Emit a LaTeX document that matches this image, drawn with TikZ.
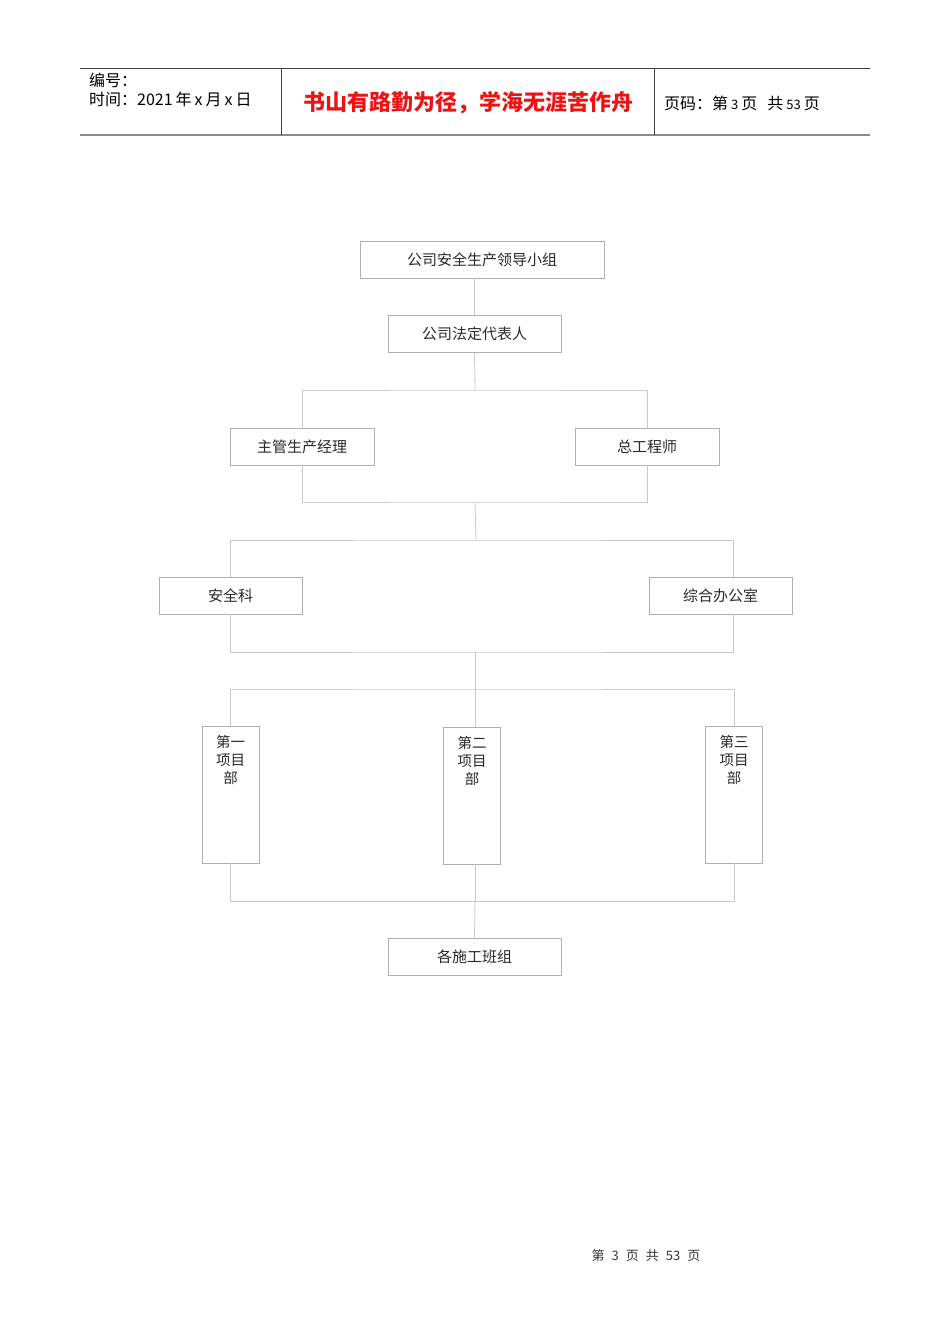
\documentclass[tikz,border=0pt]{standalone}
\usepackage{fontspec}
\setmainfont{Noto Sans CJK SC}
\definecolor{boxgray}{RGB}{175,175,175}
\definecolor{linegray}{RGB}{200,200,200}
\definecolor{txt}{RGB}{40,40,40}
\definecolor{titlered}{RGB}{235,20,20}
\begin{document}
\begin{tikzpicture}[x=1pt,y=-1pt,
  box/.style={draw=boxgray,line width=0.8pt,inner sep=0pt,text=txt,
    font=\fontsize{15}{18}\selectfont,minimum height=37pt},
  tallbox/.style={draw=boxgray,line width=0.8pt,inner sep=0pt,
    minimum width=57pt,minimum height=137pt},
  tlabel/.style={anchor=north,yshift=-6pt,align=center,text=txt,
    font=\fontsize{14.5}{18}\selectfont},
  conn/.style={draw=linegray,line width=0.8pt},
  hdr/.style={anchor=west,inner sep=0pt,text=black,font=\fontsize{16}{18}\selectfont}]
\useasboundingbox (0,0) rectangle (950,1344);
% header
\draw[line width=0.8pt,draw=black!75] (80,68) -- (870,68);
\draw[line width=1.6pt,draw=black!45] (80,135) -- (870,135);
\draw[line width=0.8pt,draw=black!75] (281,68) -- (281,135);
\draw[line width=0.8pt,draw=black!75] (654,68) -- (654,135);
\node[hdr] (h1) at (89,80) {编号：};
\node[hdr] (h2) at (89,99) {时间：2021\hspace{3pt}年\hspace{3pt}x\hspace{3pt}月\hspace{3pt}x\hspace{3pt}日};
\node[anchor=center,inner sep=0pt,text=titlered,font=\fontsize{22}{24}\selectfont\bfseries] (title) at (468,103) {书山有路勤为径，学海无涯苦作舟};
\node[hdr] (h3) at (664,103) {页码：第\hspace{3pt}{\fontsize{13}{14}\selectfont 3}\hspace{3pt}页\hspace{10pt}共\hspace{3pt}{\fontsize{13}{14}\selectfont 53}\hspace{3pt}页};
% boxes
\node[box,minimum width=244pt] (top) at (482,259.5) {公司安全生产领导小组};
\node[box,minimum width=173pt] (legal) at (474.5,334) {公司法定代表人};
\node[box,minimum width=144pt] (mgr) at (302,446.5) {主管生产经理};
\node[box,minimum width=144pt] (eng) at (647,446.5) {总工程师};
\node[box,minimum width=143pt] (safe) at (230.5,595.5) {安全科};
\node[box,minimum width=143pt] (office) at (720.5,595.5) {综合办公室};
\node[tallbox,label={[tlabel]north:第一\\项目\\部}] (p1) at (230.5,794.5) {};
\node[tallbox,label={[tlabel]north:第二\\项目\\部}] (p2) at (472,795.5) {};
\node[tallbox,label={[tlabel]north:第三\\项目\\部}] (p3) at (734,794.5) {};
\node[box,minimum width=173pt] (team) at (474.5,956.5) {各施工班组};
% junction coordinates
\coordinate (b1) at (475,390);
\coordinate (b2) at (475,502);
\coordinate (b3) at (476,540);
\coordinate (b4) at (475,652);
\coordinate (b5) at (475,689);
\coordinate (b6) at (475,901);
\coordinate (oN) at (733,577);
\coordinate (oS) at (733,614);
% connectors
\draw[conn] (top.south -| legal.north) -- (legal.north);
\draw[conn] (legal.south) -- (b1);
\draw[conn] (mgr.north) |- (b1) -| (eng.north);
\draw[conn] (mgr.south) |- (b2) -| (eng.south);
\draw[conn] (b2) -- (b3);
\draw[conn] (safe.north) |- (b3) -| (oN);
\draw[conn] (safe.south) |- (b4) -| (oS);
\draw[conn] (b4) -- (b5);
\draw[conn] (p1.north) |- (b5) -| (p3.north);
\draw[conn] (b5) -- (b5 |- p2.north);
\draw[conn] (p1.south) |- (b6) -| (p3.south);
\draw[conn] (b6 |- p2.south) -- (b6);
\draw[conn] (b6) -- (team.north);
% footer
\node[anchor=center,inner sep=0pt,text=black!80,font=\fontsize{13}{15}\selectfont] (foot) at (646,1256) {第\hspace{7pt}3\hspace{7pt}页\hspace{7pt}共\hspace{7pt}53\hspace{7pt}页};
\end{tikzpicture}
\end{document}
